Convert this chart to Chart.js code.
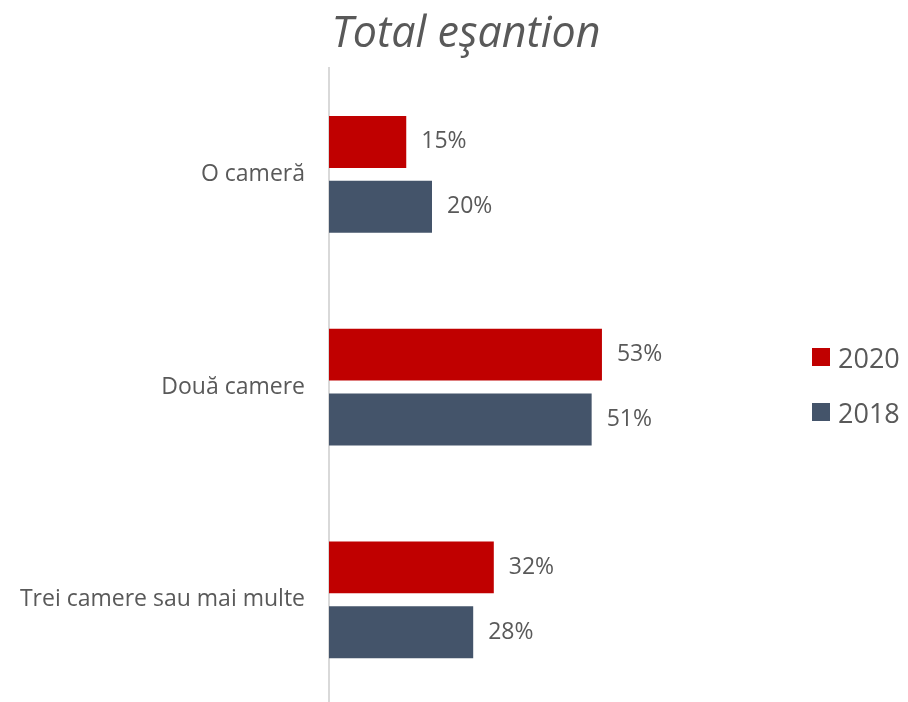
<!DOCTYPE html>
<html>
<head>
<meta charset="utf-8">
<script src="https://cdn.jsdelivr.net/npm/chart.js@4.4.0/dist/chart.umd.min.js"></script>
<style>
  body { margin: 0; width: 908px; height: 702px; overflow: hidden; background: #fff; font-family: 'Open Sans', sans-serif; }
  #wrap { position: relative; width: 908px; height: 744px; }
  #title { position: absolute; left: 0; width: 932px; top: 1px; text-align: center; font-style: italic; font-size: 43px; color: #595959; }
  #legend { position: absolute; left: 812px; top: 341px; color: #595959; font-size: 27px; }
  #legend div { display: flex; align-items: center; height: 32px; margin-bottom: 23px; }
  #legend span.box { display: inline-block; width: 18px; height: 18px; margin-right: 8px; }
</style>
</head>
<body>
<div id="wrap">
  <canvas id="chart" width="908" height="744"></canvas>
  <div id="title">Total eşantion</div>
  <div id="legend"></div>
</div>
<script>
const categories = ['O cameră', 'Două camere', 'Trei camere sau mai multe'];
const values2020 = [15, 53, 32];
const values2018 = [20, 51, 28];
const seriesNames = ['2020', '2018'];
const seriesColors = ['#C00000', '#44546A'];

const textColor = '#595959';

// legend in html
const legend = document.getElementById('legend');
seriesNames.forEach((name, i) => {
  const row = document.createElement('div');
  row.innerHTML = '<span class="box" style="background:' + seriesColors[i] + '"></span>' + name;
  legend.appendChild(row);
});

// value labels right of the bars
const valueLabels = {
  id: 'valueLabels',
  afterDatasetsDraw(chart) {
    const ctx = chart.ctx;
    ctx.save();
    ctx.font = '23px "Open Sans"';
    ctx.fillStyle = textColor;
    ctx.textAlign = 'left';
    ctx.textBaseline = 'middle';
    chart.data.datasets.forEach((ds, i) => {
      chart.getDatasetMeta(i).data.forEach((bar, j) => {
        ctx.fillText(ds.data[j] + '%', bar.x + 15, bar.y);
      });
    });
    ctx.restore();
  }
};

new Chart(document.getElementById('chart'), {
  type: 'bar',
  data: {
    labels: categories,
    datasets: [
      { label: seriesNames[0], data: values2020, backgroundColor: seriesColors[0] },
      { label: seriesNames[1], data: values2018, backgroundColor: seriesColors[1] }
    ]
  },
  options: {
    indexAxis: 'y',
    responsive: false,
    animation: false,
    categoryPercentage: 0.61,
    barPercentage: 0.8,
    layout: { padding: { top: 68, right: 270, bottom: 0, left: 0 } },
    plugins: {
      legend: { display: false },
      tooltip: { enabled: false }
    },
    scales: {
      x: {
        display: false,
        min: 0,
        max: 60
      },
      y: {
        grid: { display: false, drawTicks: false },
        border: { display: true, color: '#D9D9D9', width: 2 },
        ticks: {
          color: textColor,
          font: { family: 'Open Sans', size: 23 },
          padding: 24
        },
        afterFit(scale) { scale.width = 329; }
      }
    }
  },
  plugins: [valueLabels]
});
</script>
</body>
</html>
